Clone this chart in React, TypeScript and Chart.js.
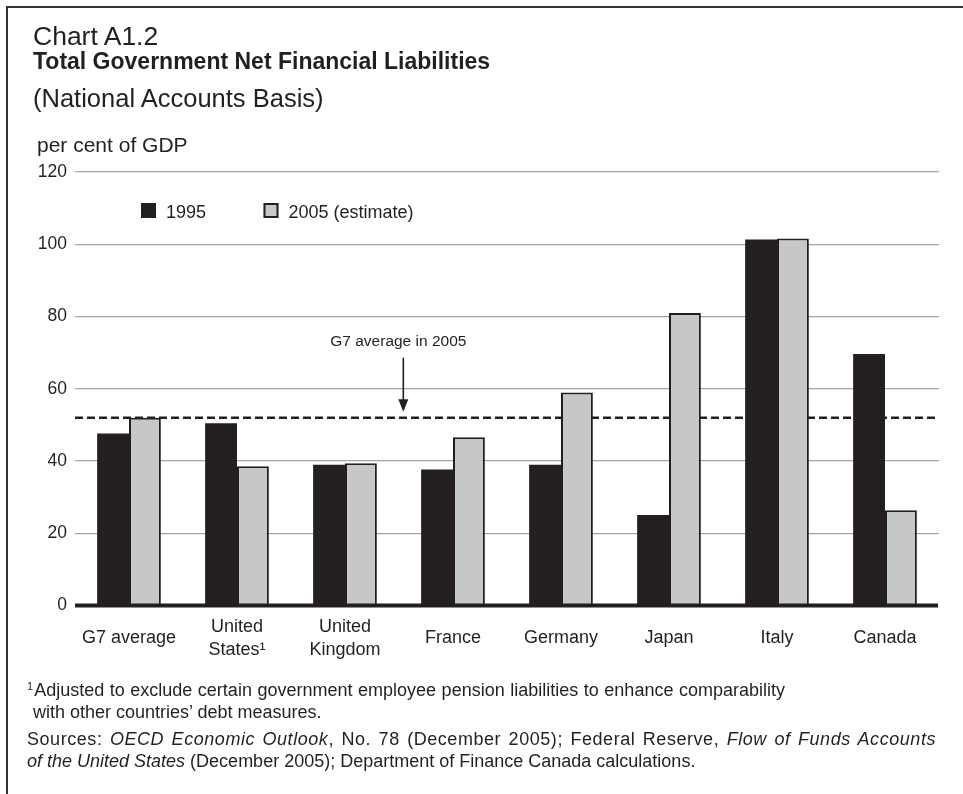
import React, { useEffect, useRef } from 'react';
import { Chart, registerables } from 'chart.js';

Chart.register(...registerables);

const categories: (string | string[])[] = [
  'G7 average',
  ['United', 'States¹'],
  ['United', 'Kingdom'],
  'France',
  'Germany',
  'Japan',
  'Italy',
  'Canada',
];
const values1995 = [47.6, 50.5, 39.0, 37.7, 39.0, 25.1, 101.3, 69.6];
const values2005 = [52.0, 38.6, 39.4, 46.6, 59.0, 81.0, 101.6, 26.4];
const seriesLabels = ['1995', '2005 (estimate)'];
const yMin = 0;
const yMax = 120;
const yStep = 20;
const g7Average2005 = 52;
const annotationText = 'G7 average in 2005';

const FONT = "'Liberation Sans', Arial, Helvetica, sans-serif";
const INK = '#231f20';
const GREY_BAR = '#c6c7c9';
const GRID = '#a3a3a3';

const annotationPlugin = {
  id: 'g7Annotations',
  beforeDatasetsDraw(chart: any) {
    const { ctx, chartArea, scales } = chart;
    const y = scales.y.getPixelForValue(g7Average2005);
    ctx.save();
    ctx.strokeStyle = INK;
    ctx.lineWidth = 2.5;
    ctx.setLineDash([8, 4]);
    ctx.beginPath();
    ctx.moveTo(chartArea.left, y);
    ctx.lineTo(chartArea.right - 3, y);
    ctx.stroke();
    ctx.restore();
  },
  afterDatasetsDraw(chart: any) {
    const { ctx, chartArea, scales } = chart;
    // zero axis line
    const y0 = scales.y.getPixelForValue(0);
    ctx.save();
    ctx.strokeStyle = INK;
    ctx.lineWidth = 4;
    ctx.beginPath();
    ctx.moveTo(chartArea.left, y0);
    ctx.lineTo(chartArea.right - 1, y0);
    ctx.stroke();

    // arrow + label
    const yAvg = scales.y.getPixelForValue(g7Average2005);
    const ax = chartArea.left + (chartArea.right - chartArea.left) * 0.38;
    ctx.lineWidth = 1.6;
    ctx.beginPath();
    ctx.moveTo(ax, yAvg - 60);
    ctx.lineTo(ax, yAvg - 16);
    ctx.stroke();
    ctx.fillStyle = INK;
    ctx.beginPath();
    ctx.moveTo(ax - 5, yAvg - 18.5);
    ctx.lineTo(ax + 5, yAvg - 18.5);
    ctx.lineTo(ax, yAvg - 6);
    ctx.closePath();
    ctx.fill();
    ctx.font = `15.5px ${FONT}`;
    ctx.textAlign = 'center';
    ctx.textBaseline = 'alphabetic';
    ctx.fillText(annotationText, ax - 5, yAvg - 72);

    // legend
    const ds = chart.data.datasets;
    const lx = [chartArea.left + 66, chartArea.left + 188.5];
    const ly = chartArea.top + 31;
    ctx.font = `18px ${FONT}`;
    ctx.textAlign = 'left';
    ds.forEach((d: any, i: number) => {
      ctx.fillStyle = d.backgroundColor;
      ctx.fillRect(lx[i], ly, 15, 15);
      if (d.borderWidth) {
        ctx.strokeStyle = d.borderColor;
        ctx.lineWidth = 2;
        ctx.strokeRect(lx[i] + 1, ly + 1, 13, 13);
      }
      ctx.fillStyle = INK;
      ctx.fillText(d.label, lx[i] + 25, ly + 15);
    });
    ctx.restore();
  },
};

function BarChart() {
  const ref = useRef<HTMLCanvasElement | null>(null);
  useEffect(() => {
    if (!ref.current) return;
    const chart = new Chart(ref.current, {
      type: 'bar',
      data: {
        labels: categories as any,
        datasets: [
          {
            label: seriesLabels[0],
            data: values1995,
            backgroundColor: INK,
            borderWidth: 0,
            categoryPercentage: 0.59,
            barPercentage: 1,
          },
          {
            label: seriesLabels[1],
            data: values2005,
            backgroundColor: GREY_BAR,
            borderColor: INK,
            borderWidth: 2,
            categoryPercentage: 0.59,
            barPercentage: 1,
          },
        ],
      },
      options: {
        animation: false,
        responsive: false,
        devicePixelRatio: 1,
        layout: { padding: { left: 0, right: 24, top: 172, bottom: 108.4 } },
        plugins: { legend: { display: false }, tooltip: { enabled: false }, title: { display: false } },
        scales: {
          x: {
            grid: { display: false, drawTicks: false },
            border: { display: false },
            ticks: {
              color: INK,
              font: { family: FONT, size: 18, lineHeight: 1.25 },
              padding: 21.5,
              crossAlign: 'center',
              maxRotation: 0,
              autoSkip: false,
            },
            afterFit: (s: any) => {
              s.height = 80;
            },
          },
          y: {
            min: yMin,
            max: yMax,
            grid: {
              drawTicks: false,
              color: (c: any) => (c.tick && c.tick.value === 0 ? 'rgba(0,0,0,0)' : GRID),
              lineWidth: 1.3,
            },
            border: { display: false },
            ticks: {
              stepSize: yStep,
              color: INK,
              font: { family: FONT, size: 17.5 },
              padding: 8,
            },
            afterFit: (s: any) => {
              s.width = 75;
            },
          },
        },
      },
      plugins: [annotationPlugin],
    });
    return () => chart.destroy();
  }, []);
  return (
    <canvas
      ref={ref}
      width={963}
      height={794}
      style={{ position: 'absolute', left: 0, top: 0, width: 963, height: 794 }}
    />
  );
}

const textBase: React.CSSProperties = {
  position: 'absolute',
  color: INK,
  fontFamily: FONT,
  whiteSpace: 'nowrap',
  lineHeight: 1,
};

const justifyLine: React.CSSProperties = {
  textAlign: 'justify',
  textAlignLast: 'justify',
  whiteSpace: 'normal',
};

export default function App() {
  return (
    <div
      style={{
        position: 'absolute',
        left: 0,
        top: 0,
        width: 963,
        height: 794,
        background: '#fff',
        overflow: 'hidden',
      }}
    >
      <div
        style={{
          position: 'absolute',
          left: 6,
          top: 6,
          right: 0,
          bottom: 0,
          borderLeft: '2px solid #333',
          borderTop: '2px solid #333',
        }}
      />
      <BarChart />
      <div style={{ ...textBase, left: 33, top: 22.6, fontSize: 26.5 }}>Chart A1.2</div>
      <div style={{ ...textBase, left: 33, top: 49.8, fontSize: 23, fontWeight: 'bold' }}>
        Total Government Net Financial Liabilities
      </div>
      <div style={{ ...textBase, left: 33, top: 86.4, fontSize: 25.5 }}>(National Accounts Basis)</div>
      <div style={{ ...textBase, left: 37, top: 134.2, fontSize: 21 }}>per cent of GDP</div>
      <div style={{ ...textBase, left: 27, top: 679, fontSize: 18, lineHeight: '22px' }}>
        <div style={{ ...justifyLine, width: 758, height: 22 }}>
          <span style={{ fontSize: 11, lineHeight: 0, position: 'relative', top: -6, marginRight: 1 }}>1</span>
          Adjusted to exclude certain government employee pension liabilities to enhance comparability
        </div>
        <div style={{ paddingLeft: 6 }}>with other countries’ debt measures.</div>
      </div>
      <div style={{ ...textBase, left: 27, top: 728, fontSize: 18, lineHeight: '22px' }}>
        <div style={{ ...justifyLine, width: 909, letterSpacing: 0.55 }}>
          Sources: <i>OECD Economic Outlook</i>, No. 78 (December 2005); Federal Reserve,{' '}
          <i>Flow of Funds Accounts</i>
        </div>
        <div>
          <i>of the United States</i> (December 2005); Department of Finance Canada calculations.
        </div>
      </div>
    </div>
  );
}
